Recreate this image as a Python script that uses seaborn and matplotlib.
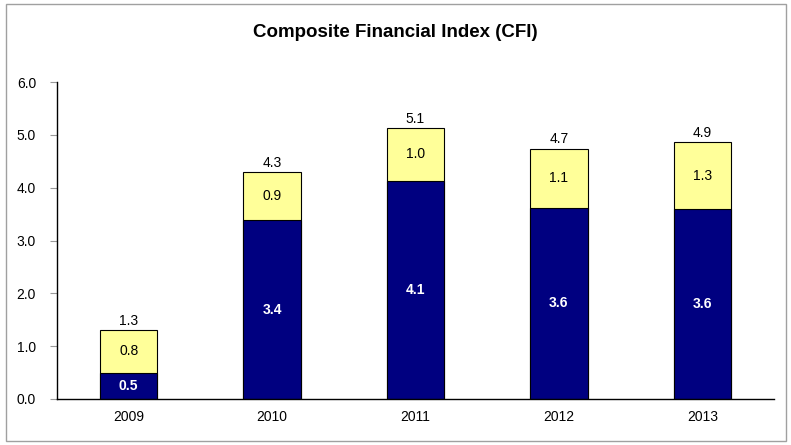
import matplotlib
matplotlib.use("Agg")
import matplotlib.pyplot as plt
import seaborn as sns
import pandas as pd
import numpy as np
from matplotlib.patches import Rectangle

# Datos
anios = ["2009", "2010", "2011", "2012", "2013"]
base = [0.50, 3.38, 4.13, 3.62, 3.59]
extra = [0.80, 0.92, 1.00, 1.12, 1.28]
ticks_y = [0.0, 1.0, 2.0, 3.0, 4.0, 5.0, 6.0]

total = [b + e for b, e in zip(base, extra)]
df = pd.DataFrame({"anio": anios, "base": base, "extra": extra, "total": total})

sns.set_style("white")
plt.rcParams["font.family"] = ["Liberation Sans", "DejaVu Sans"]
plt.rcParams["text.color"] = "black"
plt.rcParams["xtick.color"] = "black"
plt.rcParams["ytick.color"] = "black"

fig = plt.figure(figsize=(7.91, 4.45), dpi=100)
ax = fig.add_axes([0.072, 0.1034, 0.9065, 0.7123])

amarillo = "#FFFF99"
azul = "#000080"

sns.barplot(data=df, x="anio", y="total", color=amarillo, edgecolor="black",
            linewidth=0.8, width=0.4, saturation=1, ax=ax)
sns.barplot(data=df, x="anio", y="base", color=azul, edgecolor="black",
            linewidth=0.8, width=0.4, saturation=1, ax=ax)

# Etiquetas
for i in range(len(anios)):
    ax.text(i, base[i] / 2, f"{base[i]:.1f}", ha="center", va="center",
            color="white", fontsize=10, fontweight="bold")
    ax.text(i, base[i] + extra[i] / 2, f"{extra[i]:.1f}", ha="center", va="center",
            color="black", fontsize=10)
    ax.text(i, total[i] + 0.04, f"{total[i]:.1f}", ha="center", va="bottom",
            color="black", fontsize=10)

ax.set_ylim(0, 6)
ax.set_xlim(-0.5, len(anios) - 0.5)
ax.set_yticks(ticks_y)
ax.set_yticklabels([f"{t:.1f}" for t in ticks_y], fontsize=10)
ax.set_xticks(range(len(anios)))
ax.set_xticklabels(anios, fontsize=10)
ax.set_xticks(np.arange(-0.5, len(anios)), minor=True)
ax.tick_params(axis="x", which="major", length=0, pad=8)
ax.tick_params(axis="x", which="minor", length=5, color="#999999", direction="out")
ax.tick_params(axis="y", length=5, color="#999999", labelcolor="black",
               direction="out", pad=10, left=True)
ax.set_xlabel("")
ax.set_ylabel("")

for lado in ["top", "right"]:
    ax.spines[lado].set_visible(False)
for lado in ["left", "bottom"]:
    ax.spines[lado].set_color("black")
    ax.spines[lado].set_linewidth(1)

fig.text(0.5, 0.928, "Composite Financial Index (CFI)", ha="center", va="center",
         fontsize=13.5, fontweight="bold", color="black")

# Marco exterior
marco = Rectangle((6 / 791, 4 / 445), 780 / 791, 437 / 445, transform=fig.transFigure,
                  fill=False, edgecolor="#A0A0A0", linewidth=1)
fig.patches.append(marco)

fig.savefig("out.png", dpi=100)
